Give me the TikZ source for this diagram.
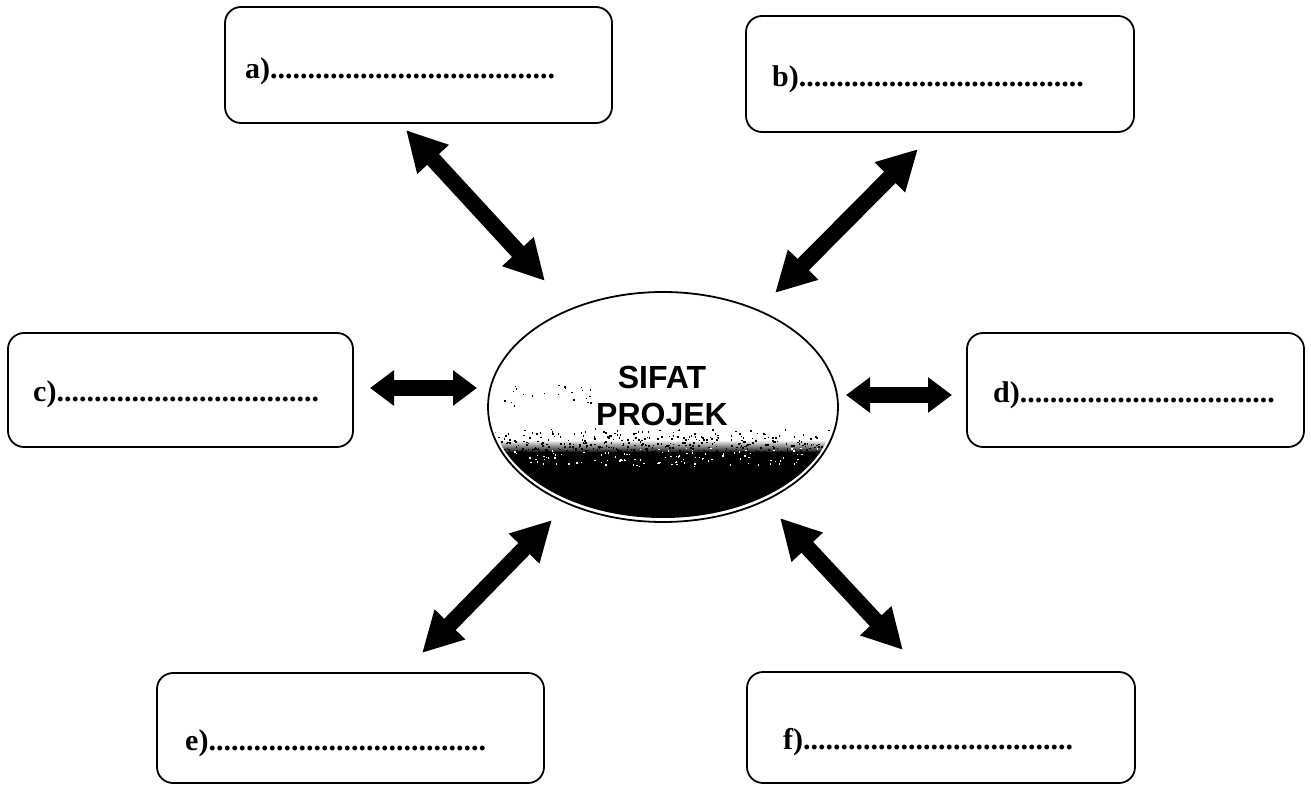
\documentclass[tikz,border=0pt]{standalone}
\usepackage{fontspec}
\setmainfont{Liberation Serif}
\newfontfamily\sansbold{Liberation Sans}
\usetikzlibrary{arrows.meta,shapes.geometric}
\begin{document}
\begin{tikzpicture}[x=1pt,y=-1pt,
  box/.style={draw, line width=1.8pt, rounded corners=16pt, inner sep=0pt},
  lbl/.style={anchor=base west, inner sep=0pt, font=\bfseries\fontsize{30}{34}\selectfont},
  core/.style={draw, ellipse, line width=1.8pt, inner sep=0pt},
  title/.style={anchor=base, inner sep=0pt, font=\sansbold\bfseries\fontsize{32}{37}\selectfont},
  diag/.style={line width=16pt, {Triangle[length=40pt,width=40pt]}-{Triangle[length=40pt,width=40pt]}},
  flat/.style={line width=16pt, {Triangle[length=24pt,width=34pt]}-{Triangle[length=24pt,width=34pt]}}
]
\useasboundingbox (0,0) rectangle (1311,786);
\fill[white] (0,0) rectangle (1311,786);

% boxes
\node[box, minimum width=387pt, minimum height=116pt] (a) at (418.5,65) {};
\node[box, minimum width=388pt, minimum height=116pt] (b) at (940,74) {};
\node[box, minimum width=345pt, minimum height=114pt] (c) at (180.5,390) {};
\node[box, minimum width=337pt, minimum height=114pt] (d) at (1135.5,390) {};
\node[box, minimum width=387pt, minimum height=110pt] (e) at (350.5,728) {};
\node[box, minimum width=388pt, minimum height=111pt] (f) at (941,727.5) {};

\newcommand{\dotrow}[1]{\foreach \k in {1,...,#1}{.}}
\node[lbl] (ta) at (245,79)  {a)\dotrow{38}};
\node[lbl] (tb) at (772,87)  {b)\dotrow{38}};
\node[lbl] (tc) at (33,401)  {c)\dotrow{35}};
\node[lbl] (td) at (993,402) {d)\dotrow{34}};
\node[lbl] (te) at (185,750) {e)\dotrow{37}};
\node[lbl] (tf) at (783,749) {f)\dotrow{36}};

% central ellipse
\begin{scope}
  \clip (663,407) ellipse [x radius=172pt, y radius=111pt];
  \shade[top color=white, bottom color=black] (480,440) rectangle (850,453);
  \fill[black] (480,452) rectangle (850,530);
  \pgfmathsetseed{7}
  \foreach \i in {1,...,450}{
    \pgfmathsetmacro\px{488+350*rnd}
    \pgfmathsetmacro\py{426+28*sqrt(rnd)}
    \fill[black] (\px,\py) rectangle ++(1.6,1.6);
  }
  \foreach \i in {1,...,120}{
    \pgfmathsetmacro\px{488+350*rnd}
    \pgfmathsetmacro\py{448+18*rnd}
    \fill[white] (\px,\py) rectangle ++(1.4,1.4);
  }
  \foreach \i in {1,...,22}{
    \pgfmathsetmacro\px{498+100*rnd}
    \pgfmathsetmacro\py{384+22*rnd}
    \fill[black] (\px,\py) rectangle ++(1.4,1.4);
  }
\end{scope}
\node[core, minimum width=350pt, minimum height=230pt] (hub) at (663,407) {};
\node[title] (t1) at (662,388) {SIFAT};
\node[title] (t2) at (662,425) {PROJEK};

% arrow end points
\coordinate (a1) at (406,130);  \coordinate (a2) at (545,281);
\coordinate (b1) at (918,149);  \coordinate (b2) at (775,293);
\coordinate (c1) at (370,388);  \coordinate (c2) at (477,388);
\coordinate (d1) at (952,395);  \coordinate (d2) at (846,395);
\coordinate (e1) at (422,653);  \coordinate (e2) at (552,520);
\coordinate (f1) at (903,650);  \coordinate (f2) at (780,518);

\draw[diag] (a1) -- (a2);
\draw[diag] (b1) -- (b2);
\draw[flat] (c1) -- (c2);
\draw[flat] (d1) -- (d2);
\draw[diag] (e1) -- (e2);
\draw[diag] (f1) -- (f2);
\end{tikzpicture}
\end{document}
